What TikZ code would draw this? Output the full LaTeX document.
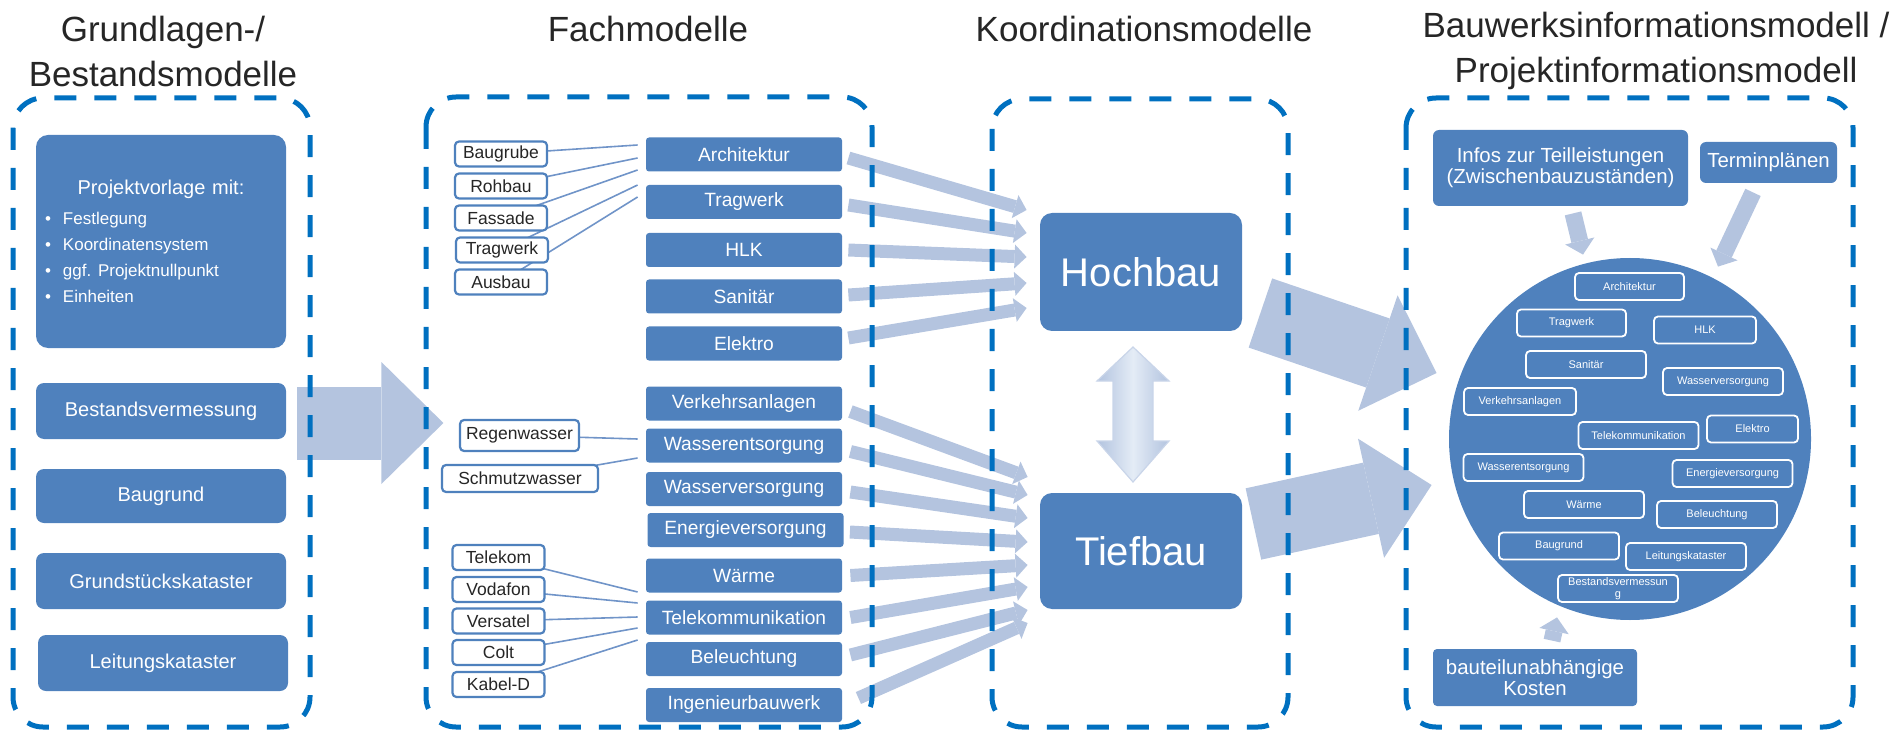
\documentclass[tikz,border=0pt]{standalone}
\usepackage{fontspec}
\setmainfont{Liberation Sans}
\usetikzlibrary{arrows.meta,calc,backgrounds}
\definecolor{boxblue}{HTML}{4F81BD}
\definecolor{dashblue}{HTML}{0070C0}
\definecolor{arrowblue}{HTML}{B4C4DF}
\definecolor{linkblue}{HTML}{7094C8}
\definecolor{titlegray}{HTML}{262626}
\definecolor{pfeilhell}{HTML}{E4ECF6}
\definecolor{pfeildunkel}{HTML}{B2C3DF}
\definecolor{pfeilrand}{HTML}{C9D5E9}
\newcommand{\punkt}{\hspace*{4.5pt}\makebox[9pt][l]{\textbullet}}

\begin{document}
\begin{tikzpicture}[x=0.5pt,y=-0.5pt,
	titel/.style={text=titlegray, align=center, font=\fontsize{17.5}{22.5}\selectfont},
	rahmen/.style={draw=dashblue, line width=2.5pt, dash pattern=on 11pt off 9pt, rounded corners=15pt},
	grundbox/.style={fill=boxblue, text=white, rounded corners=4pt, minimum width=125pt, minimum height=28pt, font=\fontsize{10}{12}\selectfont},
	fachbox/.style={fill=boxblue, text=white, rounded corners=1.5pt, minimum width=98pt, minimum height=17pt, inner xsep=1pt, font=\fontsize{9.6}{11}\selectfont},
	teilbox/.style={fill=white, draw=boxblue, line width=1.1pt, rounded corners=2pt, minimum width=46pt, minimum height=12.5pt, inner sep=0pt, text=titlegray, font=\fontsize{8.75}{10}\selectfont},
	koordbox/.style={fill=boxblue, text=white, rounded corners=6pt, minimum width=101pt, minimum height=59pt, font=\fontsize{20}{24}\selectfont},
	bimtext/.style={fill=boxblue, text=white, rounded corners=3pt, align=center, font=\fontsize{10.2}{10.5}\selectfont},
	bimbox/.style={draw=white, line width=0.9pt, rounded corners=2pt, text=white, minimum width=60pt, minimum height=13.5pt, inner sep=0pt, font=\fontsize{5.5}{6}\selectfont},
	verbindung/.style={draw=linkblue, line width=0.8pt},
	blockpfeil/.style={draw=arrowblue, line width=36.5pt, -{Triangle[length=31pt,width=61pt,line width=0pt]}},
	fachpfeil/.style={draw=arrowblue, line width=6.5pt, -{Triangle[length=6pt,width=12pt,line width=0pt]}},
	infopfeil/.style={draw=arrowblue, line width=8.5pt, -{Triangle[length=7pt,width=15pt,line width=0pt]}}
]
	\useasboundingbox (0,0) rectangle (1898,732);

	\node[titel] (t1) at (163,51) {Grundlagen-/\\Bestandsmodelle};
	\node[titel] (t2) at (648,29) {Fachmodelle};
	\node[titel] (t3) at (1144,29) {Koordinationsmodelle};
	\node[titel] (t4) at (1656,51) {Bauwerksinformationsmodell /\\Projektinformationsmodell};

	\node[grundbox, minimum height=106.5pt, rounded corners=6pt, text width=125pt, inner xsep=0pt, align=left] (vorlage) at (161,241.5) {{\centering Projektvorlage mit:\par}\vspace{2pt}
		{\fontsize{8.5}{13}\selectfont\punkt Festlegung\\\punkt Koordinatensystem\\\punkt ggf.\ Projektnullpunkt\\\punkt Einheiten\par}};
	\node[grundbox] (bestand) at (161,411) {Bestandsvermessung};
	\node[grundbox, minimum height=27pt] (baugrund) at (161,496) {Baugrund};
	\node[grundbox] (kataster) at (161,581) {Grundstückskataster};
	\node[grundbox] (leitung) at (163,663) {Leitungskataster};

	\node[teilbox] (baugrube) at (501,154) {Baugrube};
	\node[teilbox] (rohbau) at (501,186) {Rohbau};
	\node[teilbox] (fassade) at (501,218) {Fassade};
	\node[teilbox] (tragteil) at (502,250) {Tragwerk};
	\node[teilbox] (ausbau) at (501,282) {Ausbau};
	\node[teilbox, minimum width=59.5pt, minimum height=15.5pt] (regen) at (519.5,435.5) {Regenwasser};
	\node[teilbox, minimum width=78pt, minimum height=13.5pt] (schmutz) at (520,478.5) {Schmutzwasser};
	\node[teilbox] (telekom) at (498.5,557.5) {Telekom};
	\node[teilbox] (vodafon) at (498.5,589.5) {Vodafon};
	\node[teilbox] (versatel) at (498.5,621) {Versatel};
	\node[teilbox] (colt) at (498.5,652.5) {Colt};
	\node[teilbox] (kabel) at (498.5,684.5) {Kabel-D};

	\node[fachbox] (archi) at (744,154.5) {Architektur};
	\node[fachbox] (trag) at (744,202) {Tragwerk};
	\node[fachbox] (hlk) at (744,250) {HLK};
	\node[fachbox] (sanitaer) at (744,296.5) {Sanitär};
	\node[fachbox] (elektro) at (744,343.5) {Elektro};
	\node[fachbox] (verkehr) at (744,403.5) {Verkehrsanlagen};
	\node[fachbox] (entsorg) at (744,445.5) {Wasserentsorgung};
	\node[fachbox] (versorg) at (744,489) {Wasserversorgung};
	\node[fachbox] (energie) at (745.5,530) {Energieversorgung};
	\node[fachbox] (waerme) at (744,575.5) {Wärme};
	\node[fachbox] (telko) at (744,617.5) {Telekommunikation};
	\node[fachbox] (licht) at (744,659) {Beleuchtung};
	\node[fachbox] (ingbau) at (744,705) {Ingenieurbauwerk};

	\node[koordbox] (hoch) at (1141,272) {Hochbau};
	\node[koordbox, minimum height=58pt] (tief) at (1141,551) {Tiefbau};
	\draw[draw=pfeilrand, line width=0.6pt, left color=pfeildunkel, right color=pfeildunkel, middle color=pfeilhell] (1133,347) -- (1169,381) -- (1153,381) -- (1153,441) -- (1169,441) -- (1133,482) -- (1097,441) -- (1113,441) -- (1113,381) -- (1097,381) -- cycle;

	\node[bimtext, minimum width=127.5pt, minimum height=38pt] (infos) at (1560.5,168) {Infos zur Teilleistungen\\(Zwischenbauzuständen)};
	\node[bimtext, minimum width=68.5pt, minimum height=20.5pt] (termin) at (1768.5,162.5) {Terminplänen};
	\node[circle, fill=boxblue, minimum size=181pt, inner sep=0pt] (bim) at (1630,439) {};
	\node[bimtext, rounded corners=2pt, minimum width=102pt, minimum height=28.5pt] (kosten) at (1535,677.5) {bauteilunabhängige\\Kosten};

	\node[bimbox, minimum width=54.5pt] (barchi) at (1629.5,286.5) {Architektur};
	\node[bimbox, minimum width=54.5pt] (btrag) at (1571.5,323) {Tragwerk};
	\node[bimbox, minimum width=51pt] (bhlk) at (1705,330) {HLK};
	\node[bimbox] (bsanitaer) at (1586,364.5) {Sanitär};
	\node[bimbox] (bversorg) at (1723,381.5) {Wasserversorgung};
	\node[bimbox, minimum width=56pt] (bverkehr) at (1520,401.5) {Verkehrsanlagen};
	\node[bimbox] (btelko) at (1638.5,435.5) {Telekommunikation};
	\node[bimbox, minimum width=45.5pt] (belektro) at (1752.5,429) {Elektro};
	\node[bimbox] (bentsorg) at (1523.5,467.5) {Wasserentsorgung};
	\node[bimbox] (benergie) at (1732.5,473.5) {Energieversorgung};
	\node[bimbox] (bwaerme) at (1584,504.5) {Wärme};
	\node[bimbox] (blicht) at (1717,514.5) {Beleuchtung};
	\node[bimbox] (bbaugrund) at (1559,546) {Baugrund};
	\node[bimbox] (bleitung) at (1686,556.5) {Leitungskataster};
	\node[bimbox, align=center] (bbestand) at (1618,588.5) {Bestandsvermessun\\g};

	\begin{scope}[on background layer]
		\draw[verbindung] (baugrube.center) -- ($(archi.west)+(-8,-9.5)$);
		\draw[verbindung] (rohbau.center) -- ($(archi.west)+(-8,3.5)$);
		\draw[verbindung] (fassade.center) -- ($(archi.west)+(-8,15.5)$);
		\draw[verbindung] (tragteil.center) -- ($(archi.west)+(-8,30.5)$);
		\draw[verbindung] (ausbau.center) -- ($(archi.west)+(-8,42.5)$);
		\draw[verbindung] (regen.center) -- ($(entsorg.west)+(-8,-6.5)$);
		\draw[verbindung] (schmutz.center) -- ($(entsorg.west)+(-8,12.5)$);
		\draw[verbindung] (telekom.center) -- ($(telko.west)+(-8,-25.5)$);
		\draw[verbindung] (vodafon.center) -- ($(telko.west)+(-8,-14.5)$);
		\draw[verbindung] (versatel.center) -- ($(telko.west)+(-8,-0.5)$);
		\draw[verbindung] (colt.center) -- ($(telko.west)+(-8,10.5)$);
		\draw[verbindung] (kabel.center) -- ($(telko.west)+(-8,22.5)$);

		\draw[blockpfeil] ($(bestand.east)+(11,12)$) -- ($(bestand.east)+(157,12)$);

		\draw[fachpfeil] ($(archi.east)+(6,3.5)$) -- ($(hoch.west)+(-13,-62)$);
		\draw[fachpfeil] ($(trag.east)+(6,3)$) -- ($(hoch.west)+(-13,-39)$);
		\draw[fachpfeil] ($(hlk.east)+(6,0)$) -- ($(hoch.west)+(-13,-15)$);
		\draw[fachpfeil] ($(sanitaer.east)+(6,-1.5)$) -- ($(hoch.west)+(-13,11)$);
		\draw[fachpfeil] ($(elektro.east)+(6,-5.5)$) -- ($(hoch.west)+(-13,36)$);

		\draw[fachpfeil] ($(verkehr.east)+(8,8)$) -- ($(tief.west)+(-12,-74)$);
		\draw[fachpfeil] ($(entsorg.east)+(8,6)$) -- ($(tief.west)+(-12,-56)$);
		\draw[fachpfeil] ($(versorg.east)+(8,3)$) -- ($(tief.west)+(-12,-33)$);
		\draw[fachpfeil] ($(energie.east)+(6,2)$) -- ($(tief.west)+(-12,-9)$);
		\draw[fachpfeil] ($(waerme.east)+(8,0)$) -- ($(tief.west)+(-12,14)$);
		\draw[fachpfeil] ($(telko.east)+(8,0)$) -- ($(tief.west)+(-12,36)$);
		\draw[fachpfeil] ($(licht.east)+(8,-4)$) -- ($(tief.west)+(-12,59)$);
		\draw[fachpfeil] ($(ingbau.east)+(16,-7)$) -- ($(tief.west)+(-12,72)$);

		\draw[blockpfeil] ($(hoch.east)+(18,41)$) -- ($(bim.west)+(-12,-66)$);
		\draw[blockpfeil] ($(tief.east)+(11,-27)$) -- ($(bim.west)+(-17,46)$);

		\draw[infopfeil] ($(infos.south)+(12.5,7)$) -- ($(bim.north)+(-47,-3)$);
		\draw[infopfeil] ($(termin.south)+(-15.5,9)$) -- ($(bim.north)+(88,9)$);
		\draw[infopfeil] ($(kosten.north)+(17,-8)$) -- ($(bim.south)+(-73,-3)$);
	\end{scope}

	\draw[rahmen] (13,98) rectangle (310,727);
	\draw[rahmen] (426,97) rectangle (872,727);
	\draw[rahmen] (992,99) rectangle (1288,727);
	\draw[rahmen] (1406,98) rectangle (1853,727);
\end{tikzpicture}
\end{document}
